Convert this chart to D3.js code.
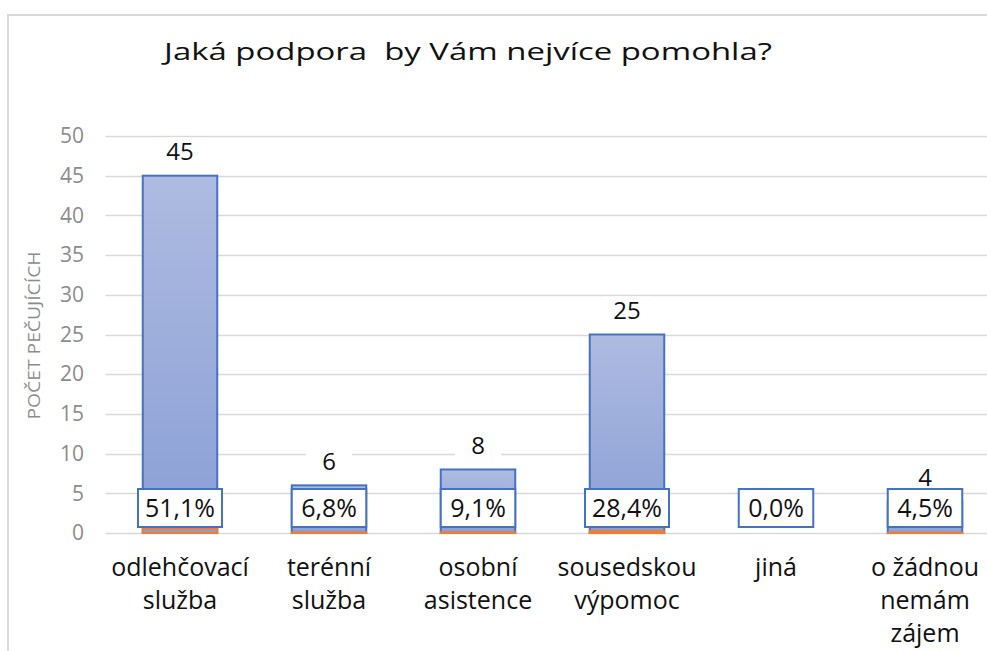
<!DOCTYPE html>
<html>
<head>
<meta charset="utf-8">
<script src="https://cdn.jsdelivr.net/npm/d3@7"></script>
<style>
  body { margin: 0; background: #fff; }
  svg { display: block; font-family: "Open Sans", "Noto Sans", sans-serif; }
</style>
</head>
<body>
<svg id="chart"></svg>
<script>
// chart data
var categories = [["odlehčovací", "služba"], ["terénní", "služba"], ["osobní", "asistence"],
                  ["sousedskou", "výpomoc"], ["jiná"], ["o žádnou", "nemám", "zájem"]];
var counts = [45, 6, 8, 25, 0, 4];
var shares = [0.511, 0.068, 0.091, 0.284, 0.0, 0.045];
var yTicks = [0, 5, 10, 15, 20, 25, 30, 35, 40, 45, 50];
var title = "Jaká podpora  by Vám nejvíce pomohla?";
var yTitle = "POČET PEČUJÍCÍCH";

(function() {
  var W = 987, H = 651;
  var svg = d3.select('#chart').attr('width', W).attr('height', H);

  var plotL = 105.5, plotR = 999.5, plotT = 136, plotB = 533;

  var x = d3.scaleBand().domain(d3.range(categories.length)).range([plotL, plotR]).paddingInner(0.5).paddingOuter(0.25);
  var y = d3.scaleLinear().domain([0, 50]).range([plotB, plotT]);

  var defs = svg.append('defs');
  var grad = defs.append('linearGradient').attr('id', 'blueGrad').attr('x1', 0).attr('y1', 0).attr('x2', 0).attr('y2', 1);
  grad.append('stop').attr('offset', '0%').attr('stop-color', '#aebbe1');
  grad.append('stop').attr('offset', '100%').attr('stop-color', '#8a9fd6');

  // outer frame (only top and left visible)
  svg.append('path').attr('d', 'M8,651V15H987').attr('fill', 'none').attr('stroke', '#d9d9d9').attr('stroke-width', 2);

  // title, stretched horizontally like the source
  var t = svg.append('text').attr('text-anchor', 'middle')
    .attr('font-size', 24).attr('fill', '#111')
    .style('white-space', 'pre')
    .text(title);
  var tw = t.node().getComputedTextLength();
  t.attr('transform', 'translate(468,60) scale(' + (608 / tw) + ',1)');

  // gridlines
  svg.append('g').selectAll('line').data(yTicks).enter().append('line')
    .attr('x1', plotL).attr('x2', W)
    .attr('y1', function(d) { return Math.round(y(d)) + 0.5; })
    .attr('y2', function(d) { return Math.round(y(d)) + 0.5; })
    .attr('stroke', '#d9d9d9').attr('stroke-width', 1.5);

  // y axis labels
  var yAxis = d3.axisLeft(y).tickValues(yTicks).tickSize(0).tickPadding(0);
  var ga = svg.append('g').attr('transform', 'translate(84,0)').call(yAxis)
    .attr('font-size', 21).attr('font-family', '"Open Sans", sans-serif');
  ga.select('.domain').remove();
  ga.selectAll('text').style('font-size', '21px').attr('fill', '#8c8c8c');

  svg.append('text').attr('transform', 'translate(40,' + (y(25) + 1) + ') rotate(-90)')
    .attr('text-anchor', 'middle').style('font-size', '16px').attr('fill', '#8c8c8c')
    .attr('textLength', 168).attr('lengthAdjust', 'spacingAndGlyphs')
    .text(yTitle);

  var rows = counts.map(function(c, i) { return {i: i, count: c, share: shares[i]}; });

  // count bars
  svg.append('g').selectAll('rect').data(rows.filter(function(d) { return d.count > 0; })).enter().append('rect')
    .attr('x', function(d) { return x(d.i); })
    .attr('y', function(d) { return y(d.count); })
    .attr('width', x.bandwidth())
    .attr('height', function(d) { return plotB - y(d.count); })
    .attr('fill', 'url(#blueGrad)').attr('stroke', '#4472c4').attr('stroke-width', 2);

  // share bars (tiny, overlapping)
  svg.append('g').selectAll('rect').data(rows.filter(function(d) { return d.share > 0; })).enter().append('rect')
    .attr('x', function(d) { return x(d.i); })
    .attr('y', function(d) { return y(d.share); })
    .attr('width', x.bandwidth())
    .attr('height', function(d) { return plotB - y(d.share); })
    .attr('fill', '#8a9fd6').attr('stroke', '#ed7d31').attr('stroke-width', 2);

  // count labels with white background
  var cl = svg.append('g').selectAll('g').data(rows.filter(function(d) { return d.count > 0; })).enter().append('g')
    .attr('transform', function(d) { return 'translate(' + (x(d.i) + x.bandwidth() / 2) + ',' + (y(d.count) - 24) + ')'; });
  cl.append('rect').attr('x', -23).attr('y', -14).attr('width', 46).attr('height', 28).attr('fill', '#fff');
  cl.append('text').attr('text-anchor', 'middle').attr('dy', '0.36em').attr('font-size', 24).attr('fill', '#111')
    .text(function(d) { return d.count; });

  // percentage labels in boxes
  var fmt = function(v) { return (v * 100).toFixed(1).replace('.', ',') + '%'; };
  var pl = svg.append('g').selectAll('g').data(rows).enter().append('g')
    .attr('transform', function(d) { return 'translate(' + (x(d.i) + x.bandwidth() / 2) + ',508)'; });
  pl.append('text').attr('text-anchor', 'middle').attr('dy', '0.36em').attr('font-size', 25).attr('fill', '#111')
    .text(function(d) { return fmt(d.share); });
  pl.each(function() {
    var g = d3.select(this);
    var w = Math.max(g.select('text').node().getComputedTextLength() + 14, x.bandwidth());
    g.insert('rect', 'text').attr('x', -w / 2).attr('y', -19).attr('width', w).attr('height', 38)
      .attr('fill', '#fff').attr('stroke', '#4472c4').attr('stroke-width', 2);
  });

  // category labels
  var cg = svg.append('g').selectAll('text').data(categories).enter().append('text')
    .attr('text-anchor', 'middle').attr('font-size', 25).attr('fill', '#111')
    .attr('transform', function(d, i) { return 'translate(' + (x(i) + x.bandwidth() / 2) + ',576)'; });
  cg.selectAll('tspan').data(function(d) { return d; }).enter().append('tspan')
    .attr('x', 0).attr('y', function(d, j) { return j * 33; })
    .text(function(d) { return d; });
})();
</script>
</body>
</html>
